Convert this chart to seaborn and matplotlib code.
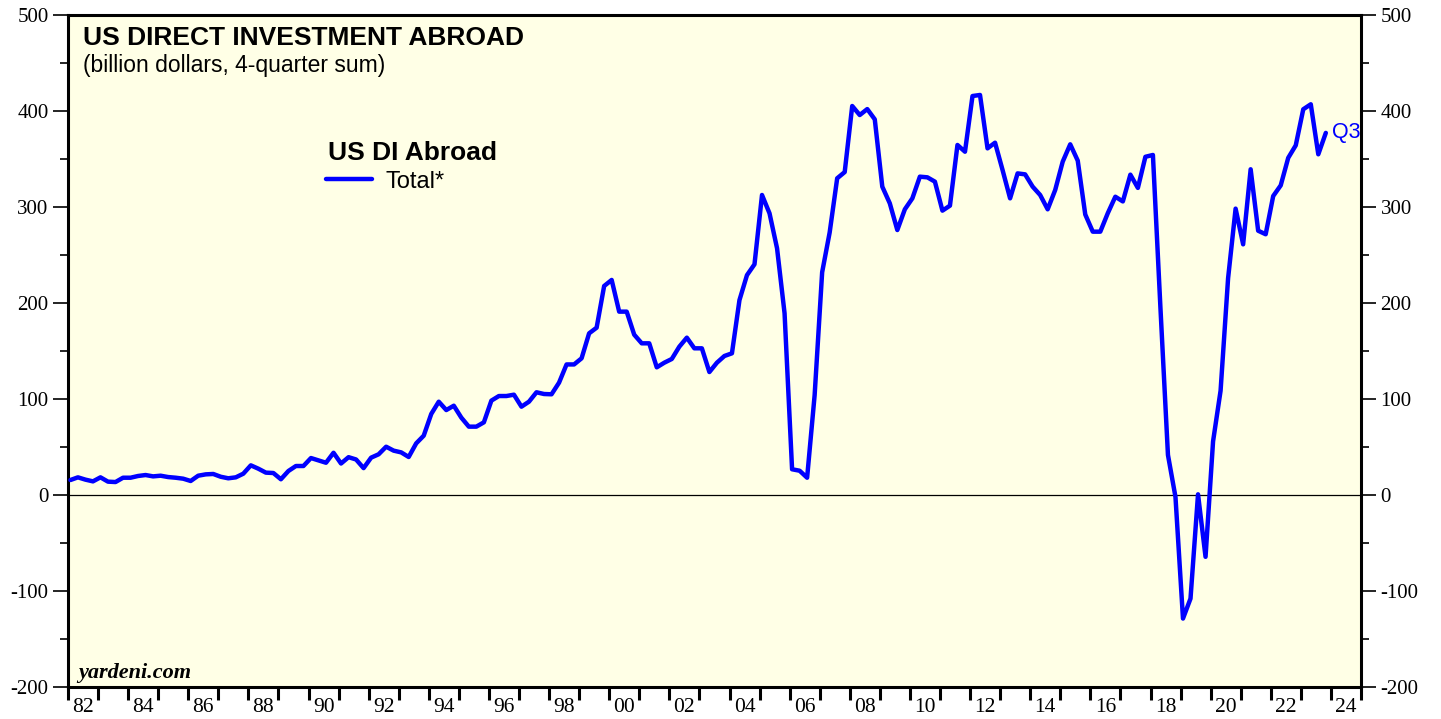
import pandas as pd
import seaborn as sns
import matplotlib.pyplot as plt
from matplotlib.lines import Line2D
from matplotlib.ticker import MultipleLocator, NullFormatter

# US direct investment abroad, billion dollars, 4-quarter sum (quarterly, 1981Q4 .. 2023Q3)
first_quarter = '1981Q4'
di_abroad = [
    15.6, 18.4, 16.0, 14.2,
    18.4, 13.9, 13.5, 18.0,
    18.0, 19.8, 20.8, 19.4,
    20.1, 18.7, 18.0, 17.0,
    14.6, 20.1, 21.5, 21.9,
    19.0, 17.4, 18.4, 22.2,
    30.9, 27.4, 23.3, 22.9,
    16.4, 25.0, 30.2, 30.2,
    38.5, 36.1, 33.6, 44.0,
    32.8, 39.4, 37.0, 28.0,
    38.9, 42.4, 50.3, 46.2,
    44.4, 39.6, 53.8, 61.8,
    84.4, 97.2, 88.5, 93.0,
    80.6, 71.2, 71.2, 75.7,
    98.3, 103.1, 103.1, 104.5,
    92.0, 97.2, 107.0, 105.2,
    104.9, 117.0, 136.0, 136.0,
    142.4, 168.4, 174.3, 217.7,
    224.0, 191.0, 191.0, 167.0,
    158.0, 158.0, 133.0, 137.8,
    141.7, 154.5, 163.9, 152.8,
    152.8, 128.1, 137.8, 144.8,
    147.6, 203.0, 229.0, 240.3,
    312.5, 293.4, 257.0, 189.3,
    26.8, 25.3, 18.0, 104.0,
    232.0, 273.5, 329.9, 336.4,
    405.2, 395.8, 402.0, 391.3,
    321.2, 303.8, 276.0, 297.6,
    309.0, 331.6, 330.9, 326.4,
    296.2, 301.4, 364.6, 357.6,
    415.6, 416.7, 361.1, 367.0,
    338.5, 309.0, 335.0, 334.0,
    321.2, 312.5, 297.6, 317.7,
    347.2, 365.3, 348.3, 292.2,
    274.3, 274.3, 293.6, 310.7,
    305.8, 333.7, 319.9, 352.3,
    354.2, 195.0, 41.7, -2.0,
    -128.7, -107.9, 0.7, -64.4,
    55.8, 108.6, 225.8, 298.3,
    261.1, 339.3, 275.3, 271.6,
    311.4, 322.5, 351.2, 364.2,
    401.8, 407.0, 354.9, 377.2,
]

year_labels = list(range(1982, 2025, 2))

quarters = pd.period_range(first_quarter, periods=len(di_abroad), freq='Q')
# plotted just after the end of each quarter
df = pd.DataFrame({'date': quarters.year + quarters.quarter / 4 + 0.08, 'value': di_abroad})

sns.set_style('ticks')
plt.rcParams['font.family'] = ['Liberation Sans', 'DejaVu Sans']
plt.rcParams['text.color'] = 'black'
plt.rcParams['axes.unicode_minus'] = False

W, H = 1441, 719
fig = plt.figure(figsize=(W / 100, H / 100), dpi=100)
ax = fig.add_axes([68 / W, 32 / H, 1293 / W, 672 / H])
ax.set_facecolor('#ffffe6')

ax.axhline(0, color='black', lw=0.9, zorder=1)
sns.lineplot(data=df, x='date', y='value', ax=ax, color='#0000ff', lw=3.2, zorder=3)

ax.set_xlim(1982, 2025)
ax.set_ylim(-200, 500)
ax.set_xlabel('')
ax.set_ylabel('')

# x axis: a tick at every year, labels centred inside every other year
ax.set_xticks(range(1982, 2026))
ax.xaxis.set_major_formatter(NullFormatter())
ax.set_xticks([y + 0.5 for y in year_labels], [f'{y % 100:02d}' for y in year_labels], minor=True)
ax.tick_params(axis='x', which='major', length=9, width=2.2, direction='out')
ax.tick_params(axis='x', which='minor', length=0, pad=8, labelsize=15.5)

ax.yaxis.set_major_locator(MultipleLocator(100))
ax.yaxis.set_minor_locator(MultipleLocator(50))
ax.tick_params(axis='y', which='both', left=True, right=True, labelleft=True, labelright=True,
               width=1.2, labelsize=15)
ax.tick_params(axis='y', which='major', length=11, pad=3)
ax.tick_params(axis='y', which='minor', length=6)
ax.tick_params(which='both', labelfontfamily='Liberation Serif', colors='black')

for s in ax.spines.values():
    s.set_visible(True)
    s.set_linewidth(2.2)
    s.set_color('black')

# titles and legend
fig.text(83 / W, 1 - 45 / H, 'US DIRECT INVESTMENT ABROAD', fontsize=19, fontweight='bold')
fig.text(83 / W, 1 - 72 / H, '(billion dollars, 4-quarter sum)', fontsize=16.5)
fig.text(328 / W, 1 - 160 / H, 'US DI Abroad', fontsize=19, fontweight='bold')
fig.add_artist(Line2D([326 / W, 372 / W], [1 - 179 / H] * 2, color='#0000ff', lw=3.2))
fig.text(385 / W, 1 - 188 / H, 'Total*', fontsize=17)
ax.annotate('Q3', xy=(df['date'].iloc[-1], df['value'].iloc[-1]), xytext=(6, 0),
            textcoords='offset pixels', va='center', ha='left', color='#0000ff', fontsize=15.5)
fig.text(78 / W, 1 - 678 / H, 'yardeni.com', fontsize=16, fontweight='bold', style='italic',
         family='Liberation Serif')

fig.savefig('out.png', dpi=100, facecolor='white')
